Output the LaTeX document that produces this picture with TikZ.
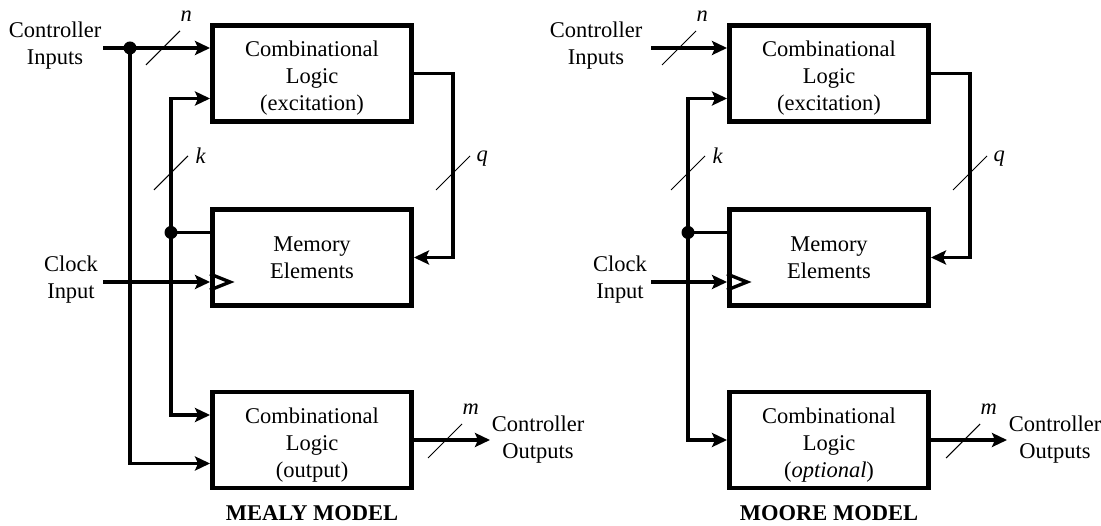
\documentclass[tikz,border=0pt]{standalone}
\usepackage{fontspec}
\setmainfont{Liberation Serif}
\usepackage{tikz}
\usetikzlibrary{arrows.meta,positioning,calc}

\newcommand{\topgap}{\rule{0pt}{14.5pt}}

\begin{document}
\begin{tikzpicture}[
    font=\fontsize{12.8}{15.4}\selectfont,
    block/.style={rectangle, draw=black, line width=2.8pt, minimum width=3.98cm, minimum height=1.92cm, align=center, inner sep=0pt},
    wire/.style={line width=1.9pt},
    arrow/.style={wire, -{Stealth[length=0.3cm, width=0.28cm, inset=0.06cm]}},
    bus/.style={line width=0.6pt},
    buslbl/.style={inner sep=0pt, font=\fontsize{12.8}{15.4}\selectfont\itshape},
    dot/.style={circle, fill=black, inner sep=0pt, minimum size=0.26cm},
    txt/.style={align=center, inner sep=0pt},
]
\useasboundingbox (0,0) rectangle (22.02,-10.52);

% Mealy model
\node[block] (exc) at (6.24,-1.47) {\topgap Combinational\\Logic\\(excitation)};
\node[block] (mem) at (6.24,-5.15) {Memory\\Elements};
\node[block] (out) at (6.24,-8.8) {\topgap Combinational\\Logic\\(output)};

\node[txt] (ci) at (1.1,-0.92) {Controller\\Inputs};
\node[txt] (clk) at (1.42,-5.6) {Clock\\Input};
\node[font=\fontsize{12.8}{15.4}\selectfont\bfseries] (mealy) at (6.24,-10.26) {MEALY MODEL};

\coordinate (cistart) at (2.06,-0.96);
\coordinate (ckstart) at (2.06,-5.64);
\coordinate (qx) at (9.06,0);
\coordinate (cotip) at (9.8,-8.8);
\node[dot] (ndot) at (2.6,-0.96) {};
\node[dot] (kdot) at (3.42,-4.65) {};

\draw[arrow] (cistart) -- (cistart -| exc.west);
\draw[arrow] (ndot.center) |- ([yshift=-0.47cm]out.west);
\draw[arrow] (kdot.center) |- ([yshift=-0.5cm]exc.west);
\draw[arrow] (kdot.center) |- ([yshift=0.5cm]out.west);
\draw[wire] (kdot.center) -- (kdot -| mem.west);
\draw[arrow] (ckstart) -- (ckstart -| mem.west);
\coordinate (clkpin) at (ckstart -| mem.west);
\draw[wire] ($(clkpin)+(0,0.16)$) -- ($(clkpin)+(0.4,0)$) -- ($(clkpin)+(0,-0.16)$);
\draw[arrow] (exc.east) -- (exc.east -| qx) -- (mem.east -| qx) -- (mem.east);
\draw[arrow] (out.east) -- (cotip);
\node[txt, right=0.03cm of cotip] (co) {Controller\\Outputs};

% bus widths
\draw[bus] (3.26,-0.96) ++(-0.34,-0.34) -- ++(0.68,0.68) node[buslbl, anchor=south west, yshift=0.18cm] {n};
\draw[bus] (3.42,-3.46) ++(-0.34,-0.34) -- ++(0.68,0.68) node[buslbl, anchor=west, xshift=0.14cm] {k};
\draw[bus] (9.06,-3.46) ++(-0.34,-0.34) -- ++(0.68,0.68) node[buslbl, anchor=west, xshift=0.12cm, yshift=-0.06cm] {q};
\draw[bus] (8.9,-8.82) ++(-0.34,-0.34) -- ++(0.68,0.68) node[buslbl, anchor=south west, yshift=0.18cm] {m};

% Moore model
\node[block] (exc2) at (16.58,-1.47) {\topgap Combinational\\Logic\\(excitation)};
\node[block] (mem2) at (16.58,-5.15) {Memory\\Elements};
\node[block] (opt) at (16.58,-8.8) {\topgap Combinational\\Logic\\(\textit{optional})};

\node[txt] (ci2) at (11.92,-0.92) {Controller\\Inputs};
\node[txt] (clk2) at (12.4,-5.6) {Clock\\Input};
\node[font=\fontsize{12.8}{15.4}\selectfont\bfseries] (moore) at (16.58,-10.26) {MOORE MODEL};

\coordinate (cistart2) at (13.02,-0.96);
\coordinate (ckstart2) at (13.02,-5.64);
\coordinate (qx2) at (19.4,0);
\coordinate (cotip2) at (20.14,-8.8);
\node[dot] (kdot2) at (13.76,-4.65) {};

\draw[arrow] (cistart2) -- (cistart2 -| exc2.west);
\draw[arrow] (kdot2.center) |- ([yshift=-0.5cm]exc2.west);
\draw[arrow] (kdot2.center) |- (opt.west);
\draw[wire] (kdot2.center) -- (kdot2 -| mem2.west);
\draw[arrow] (ckstart2) -- (ckstart2 -| mem2.west);
\coordinate (clkpin2) at (ckstart2 -| mem2.west);
\draw[wire] ($(clkpin2)+(0,0.16)$) -- ($(clkpin2)+(0.4,0)$) -- ($(clkpin2)+(0,-0.16)$);
\draw[arrow] (exc2.east) -- (exc2.east -| qx2) -- (mem2.east -| qx2) -- (mem2.east);
\draw[arrow] (opt.east) -- (cotip2);
\node[txt, right=0.03cm of cotip2] (co2) {Controller\\Outputs};

\draw[bus] (13.58,-0.96) ++(-0.34,-0.34) -- ++(0.68,0.68) node[buslbl, anchor=south west, yshift=0.18cm] {n};
\draw[bus] (13.76,-3.46) ++(-0.34,-0.34) -- ++(0.68,0.68) node[buslbl, anchor=west, xshift=0.14cm] {k};
\draw[bus] (19.4,-3.46) ++(-0.34,-0.34) -- ++(0.68,0.68) node[buslbl, anchor=west, xshift=0.12cm, yshift=-0.06cm] {q};
\draw[bus] (19.26,-8.82) ++(-0.34,-0.34) -- ++(0.68,0.68) node[buslbl, anchor=south west, yshift=0.18cm] {m};

\end{tikzpicture}
\end{document}
